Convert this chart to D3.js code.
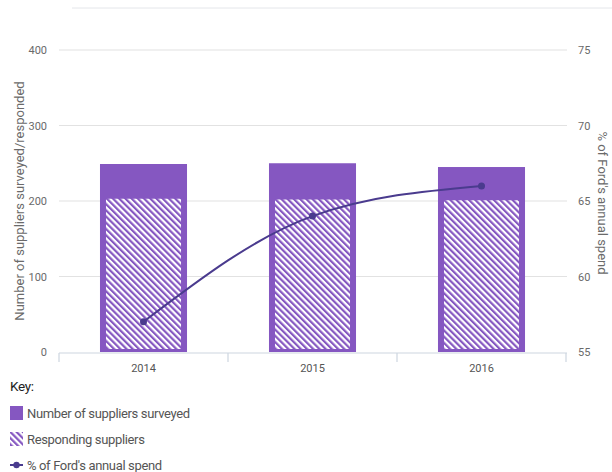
<!DOCTYPE html>
<html>
<head>
<meta charset="utf-8">
<script src="https://cdn.jsdelivr.net/npm/d3@7"></script>
<style>
  html, body { margin: 0; padding: 0; background: #fff; }
  svg { display: block; font-family: "Roboto", "Noto Sans", sans-serif; }
</style>
</head>
<body>
<svg id="chart" width="612" height="472"></svg>
<script>
// Supplier survey data by year
const years = ["2014", "2015", "2016"];
const surveyed = [249, 250, 245];
const responded = [203, 202, 201];
const spendPct = [57, 64, 66];

const leftTicks = [0, 100, 200, 300, 400];
const rightTicks = [55, 60, 65, 70, 75];

const purple = "#8557c1";
const lineColor = "#4a3b8e";

const svg = d3.select("#chart");
const W = 612, H = 472;
const m = { left: 59, right: 46, top: 50, bottom: 120 };
const x0 = m.left, x1 = W - m.right, y0 = H - m.bottom, y1 = m.top;

const x = d3.scaleBand().domain(years).range([x0, x1]).paddingInner(0.485).paddingOuter(0.2425);
const band = d3.scaleBand().domain(years).range([x0, x1]);
const yL = d3.scaleLinear().domain([0, 400]).range([y0, y1]);
const yR = d3.scaleLinear().domain([55, 75]).range([y0, y1]);

// hatch pattern
const defs = svg.append("defs");
const pat = defs.append("pattern")
  .attr("id", "hatch")
  .attr("patternUnits", "userSpaceOnUse")
  .attr("width", 4.4).attr("height", 4.4)
  .attr("patternTransform", "rotate(-45)");
pat.append("rect").attr("width", 4.4).attr("height", 4.4).attr("fill", "#fff");
pat.append("rect").attr("x", 0).attr("width", 2.2).attr("height", 4.4).attr("fill", purple);

// top rule
svg.append("line").attr("x1", 72).attr("x2", W).attr("y1", 8).attr("y2", 8)
  .attr("stroke", "#e4e6ea").attr("stroke-width", 1);

// gridlines
svg.append("g").selectAll("line").data(leftTicks.filter(d => d > 0)).join("line")
  .attr("x1", x0).attr("x2", x1 + 1)
  .attr("y1", d => yL(d)).attr("y2", d => yL(d))
  .attr("stroke", "#e2e2e2").attr("stroke-width", 1.2);

// left axis
const gl = svg.append("g").attr("transform", `translate(${x0 - 12},0)`)
  .call(d3.axisLeft(yL).tickValues(leftTicks).tickSize(0).tickPadding(0));
gl.select(".domain").remove();
gl.selectAll("text").attr("fill", "#6a6a6a").style("font-size", "11px").style("font-family", "Roboto");

// right axis
const gr = svg.append("g").attr("transform", `translate(${x1 + 12},0)`)
  .call(d3.axisRight(yR).tickValues(rightTicks).tickSize(0).tickPadding(0));
gr.select(".domain").remove();
gr.selectAll("text").attr("fill", "#6a6a6a").style("font-size", "11px").style("font-family", "Roboto");

// bars: surveyed (solid)
svg.append("g").selectAll("rect").data(years).join("rect")
  .attr("x", d => x(d)).attr("width", x.bandwidth())
  .attr("y", (d, i) => yL(surveyed[i]))
  .attr("height", (d, i) => yL(0) - yL(surveyed[i]))
  .attr("fill", purple);

// bars: responded (hatched, inset)
svg.append("g").selectAll("rect").data(years).join("rect")
  .attr("x", d => x(d) + 6).attr("width", x.bandwidth() - 12)
  .attr("y", (d, i) => yL(responded[i]))
  .attr("height", (d, i) => yL(0) - yL(responded[i]) - 3)
  .attr("fill", "url(#hatch)");

// x axis baseline and ticks
const ax = svg.append("g").attr("transform", `translate(0,${y0 + 1})`);
ax.append("line").attr("x1", x0).attr("x2", x1 + 1).attr("stroke", "#cdd5e0").attr("stroke-width", 1.2);
const edges = years.map(d => band(d)).concat([band(years[years.length - 1]) + band.bandwidth()]);
ax.selectAll(".tk").data(edges).join("line").attr("class", "tk")
  .attr("x1", d => d).attr("x2", d => d).attr("y1", 0).attr("y2", 9)
  .attr("stroke", "#cdd5e0").attr("stroke-width", 1.2);
ax.selectAll("text").data(years).join("text")
  .attr("x", d => band(d) + band.bandwidth() / 2).attr("y", 19)
  .attr("text-anchor", "middle").attr("fill", "#555").style("font-size", "11px")
  .text(d => d);

// spend line
const pts = years.map((d, i) => [x(d) + x.bandwidth() / 2, yR(spendPct[i])]);
svg.append("path").datum(pts)
  .attr("d", d3.line().curve(d3.curveMonotoneX))
  .attr("fill", "none").attr("stroke", lineColor).attr("stroke-width", 2);
svg.append("g").selectAll("circle").data(pts).join("circle")
  .attr("cx", d => d[0]).attr("cy", d => d[1]).attr("r", 3.5).attr("fill", lineColor);

// axis titles
svg.append("text")
  .attr("transform", `translate(24,${(y0 + y1) / 2}) rotate(-90)`)
  .attr("text-anchor", "middle").attr("fill", "#6a6a6a").style("font-size", "13px")
  .text("Number of suppliers surveyed/responded");
svg.append("text")
  .attr("transform", `translate(598,${(y0 + y1) / 2 + 2}) rotate(90)`)
  .attr("text-anchor", "middle").attr("fill", "#6a6a6a").style("font-size", "13px")
  .text("% of Ford's annual spend");

// key
const key = svg.append("g").style("letter-spacing", "-0.35px");
key.append("text").attr("x", 10).attr("y", 391).attr("fill", "#222").style("font-size", "13.5px").text("Key:");
key.append("rect").attr("x", 10).attr("y", 406).attr("width", 13).attr("height", 14).attr("fill", purple);
key.append("text").attr("x", 27).attr("y", 418).attr("fill", "#555").style("font-size", "13px").text("Number of suppliers surveyed");
key.append("rect").attr("x", 10).attr("y", 432).attr("width", 13).attr("height", 14).attr("fill", "url(#hatch)");
key.append("text").attr("x", 27).attr("y", 444).attr("fill", "#555").style("font-size", "13px").text("Responding suppliers");
key.append("line").attr("x1", 10).attr("x2", 23).attr("y1", 465).attr("y2", 465).attr("stroke", lineColor).attr("stroke-width", 2);
key.append("circle").attr("cx", 16.5).attr("cy", 465).attr("r", 3.2).attr("fill", lineColor);
key.append("text").attr("x", 27).attr("y", 470).attr("fill", "#555").style("font-size", "13px").text("% of Ford's annual spend");
</script>
</body>
</html>
